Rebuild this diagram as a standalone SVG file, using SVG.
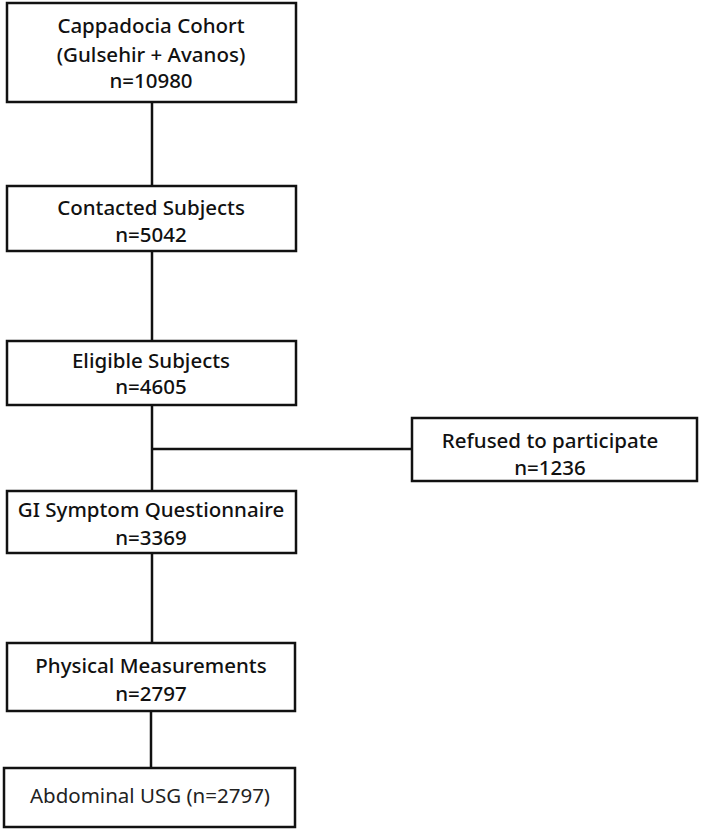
<svg xmlns="http://www.w3.org/2000/svg" width="706" height="831" viewBox="0 0 706 831">
<style>
.box{fill:#fff;stroke:#111;stroke-width:2.5}
.t{font-family:"Noto Sans","Open Sans",sans-serif;font-size:20.5px;font-weight:500;fill:#111;text-anchor:middle}
.l{font-weight:400;fill:#222}
.c{stroke:#111;stroke-width:2.5;fill:none}
</style>
<rect width="706" height="831" fill="#fff"/>
<g id="connectors">
<line class="c" x1="152" y1="102" x2="152" y2="186"/>
<line class="c" x1="152" y1="251" x2="152" y2="341"/>
<line class="c" x1="152" y1="405" x2="152" y2="491"/>
<line class="c" x1="152" y1="449" x2="412" y2="449"/>
<line class="c" x1="152" y1="553" x2="152" y2="643"/>
<line class="c" x1="151" y1="711" x2="151" y2="768"/>
</g>
<g id="n1"><rect class="box" x="7" y="3" width="289" height="99"/>
<text class="t" x="151" y="33">Cappadocia Cohort</text>
<text class="t" x="151" y="62">(Gulsehir + Avanos)</text>
<text class="t" x="151" y="88">n=10980</text></g>
<g id="n2"><rect class="box" x="7" y="186" width="289" height="65"/>
<text class="t" x="151" y="215">Contacted Subjects</text>
<text class="t" x="151" y="242">n=5042</text></g>
<g id="n3"><rect class="box" x="7" y="341" width="289" height="64"/>
<text class="t" x="151" y="368">Eligible Subjects</text>
<text class="t" x="151" y="394">n=4605</text></g>
<g id="n4"><rect class="box" x="412" y="418" width="285" height="63"/>
<text class="t" x="550" y="448">Refused to participate</text>
<text class="t" x="550" y="475">n=1236</text></g>
<g id="n5"><rect class="box" x="7" y="491" width="289" height="62"/>
<text class="t" x="151" y="517">GI Symptom Questionnaire</text>
<text class="t" x="151" y="545">n=3369</text></g>
<g id="n6"><rect class="box" x="7" y="643" width="288" height="68"/>
<text class="t" x="151" y="673">Physical Measurements</text>
<text class="t" x="151" y="701">n=2797</text></g>
<g id="n7"><rect class="box" x="4" y="768" width="291" height="59"/>
<text class="t l" x="150" y="803">Abdominal USG (n=2797)</text></g>
</svg>
